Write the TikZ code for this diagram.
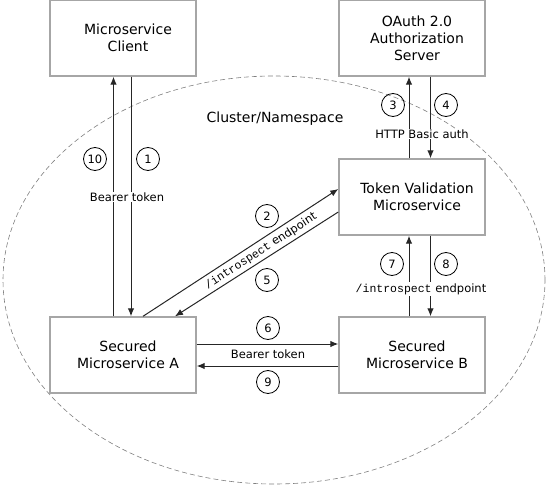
\documentclass[tikz,border=0pt]{standalone}
\usepackage{fontspec}
\setmainfont{DejaVu Sans}
\newfontfamily\monofont{Liberation Mono}
\usepackage{tikz}
\usetikzlibrary{arrows.meta,positioning,calc}
\definecolor{boxgray}{HTML}{A6A6A6}
\definecolor{linegray}{HTML}{262626}

\begin{document}
\begin{tikzpicture}[
					x = 1pt, y = -1pt,
					>={Latex[length=8pt,width=6.5pt]},
					service/.style = {draw=boxgray, line width=1.4pt, minimum width=146pt, minimum height=76pt},
					boxtext/.style = {align=center, xshift=5pt, font=\fontsize{14}{17}\selectfont},
					flow/.style = {->, draw=linegray, line width=1pt},
					stepno/.style = {draw, circle, line width=0.8pt, minimum size=23pt, inner sep=0pt, font=\fontsize{11.5}{13}\selectfont},
					tag/.style = {font=\fontsize{11.5}{13}\selectfont, inner sep=1pt},
					]

					\useasboundingbox (0,0) rectangle (547,487);

					\draw[gray, dash pattern=on 5pt off 3pt, line width=0.6pt] (274,280) ellipse [x radius=271pt, y radius=204pt];

					\node[service, label={[boxtext]center:{Microservice\\Client}}] (client) at (123,38) {};
					\node[service, label={[boxtext]center:{OAuth 2.0\\Authorization\\Server}}] (oauth) at (412,38) {};
					\node[service, label={[boxtext]center:{Token Validation\\Microservice}}] (token) at (412,197) {};
					\node[service, label={[boxtext]center:{Secured\\Microservice A}}] (svca) at (123,355) {};
					\node[service, label={[boxtext]center:{Secured\\Microservice B}}] (svcb) at (412,355) {};

					\node[font=\fontsize{14}{17}\selectfont] (cluster) at (275,119) {Cluster/Namespace};

					\draw[flow] ([xshift=-9.5pt]svca.north) -- ([xshift=-9.5pt]client.south);
					\draw[flow] ([xshift=8pt]client.south) -- ([xshift=8pt]svca.north);
					\node[tag, fill=white] (bearer1) at (127,197) {Bearer token};
					\node[stepno] (n10) at (95,159) {10};
					\node[stepno] (n1) at (148,159) {1};

					\draw[flow] ([xshift=-3pt]token.north) -- ([xshift=-3pt]oauth.south);
					\draw[flow] ([xshift=18.5pt]oauth.south) -- ([xshift=18.5pt]token.north);
					\node[tag, fill=white] (basic) at (422,134) {HTTP Basic auth};
					\node[stepno] (n3) at (393,105) {3};
					\node[stepno] (n4) at (446,105) {4};

					\draw[flow] ([xshift=20pt]svca.north) -- ([yshift=8pt]token.west);
					\draw[flow] ([yshift=-15pt]token.west) -- ([xshift=52pt]svca.north);
					\node[tag, rotate=33] (introa) at (261,251) {{\monofont /introspect} endpoint};
					\node[stepno] (n2) at (267,216) {2};
					\node[stepno] (n5) at (267,280) {5};

					\draw[flow] ([xshift=-3pt]svcb.north) -- ([xshift=-3pt]token.south);
					\draw[flow] ([xshift=18.5pt]token.south) -- ([xshift=18.5pt]svcb.north);
					\node[tag, fill=white] (introb) at (421,289) {{\monofont /introspect} endpoint};
					\node[stepno] (n7) at (392,264) {7};
					\node[stepno] (n8) at (446,264) {8};

					\draw[flow] ([yshift=11pt]svca.east) -- ([yshift=11pt]svcb.west);
					\draw[flow] ([yshift=-11pt]svcb.west) -- ([yshift=-11pt]svca.east);
					\node[tag] (bearer2) at (268,354) {Bearer token};
					\node[stepno] (n6) at (268,328) {6};
					\node[stepno] (n9) at (268,382) {9};

				\end{tikzpicture}
\end{document}
